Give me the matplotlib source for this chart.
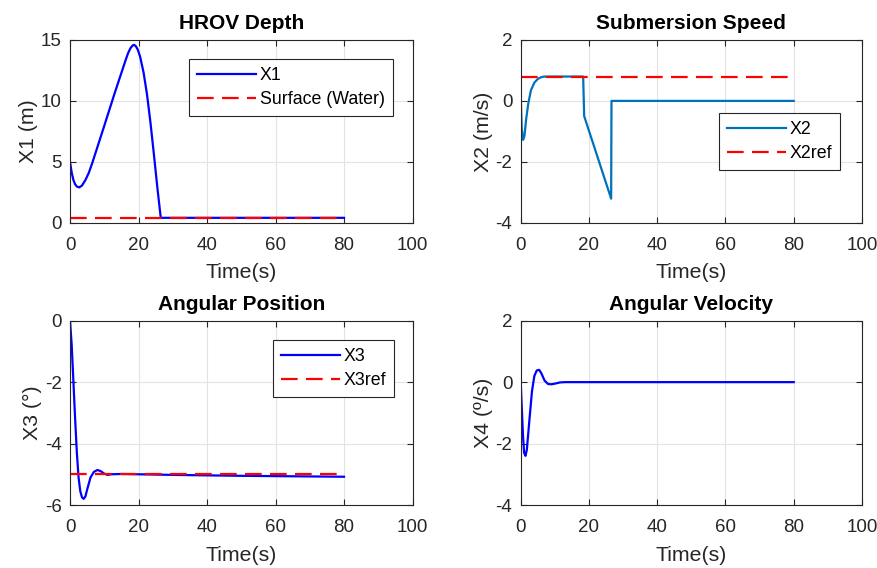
import matplotlib
matplotlib.use("Agg")
import matplotlib.pyplot as plt

plt.rcParams['font.family'] = ['Liberation Sans', 'DejaVu Sans']
plt.rcParams['axes.unicode_minus'] = False

# --- dados ---
t_x1 = [0, 0.5, 1, 1.5, 2, 2.7, 3.5, 4.5, 5.5, 6.5, 10, 13, 16.3, 17, 17.7, 18.3, 18.7, 19.2, 19.8, 20.5, 21.5, 22.5, 23.5, 24.5, 25.5, 26.5, 80]
x1 = [5.0, 4.1, 3.5, 3.15, 2.97, 2.9, 3.05, 3.5, 4.1, 4.9, 7.95, 10.6, 13.4, 13.95, 14.35, 14.55, 14.6, 14.5, 14.2, 13.6, 12.3, 10.5, 8.2, 5.6, 2.9, 0.4, 0.4]
t_surf = [0, 80]
surf = [0.4, 0.4]

t_x2 = [0, 0.3, 0.7, 1.1, 1.6, 2.2, 3, 4, 5, 6, 7, 8, 18.3, 18.6, 26.5, 26.6, 80]
x2 = [0.2, -0.9, -1.28, -1.15, -0.6, -0.1, 0.35, 0.6, 0.72, 0.78, 0.8, 0.8, 0.8, -0.5, -3.21, 0.0, 0.0]
t_x2ref = [0, 80]
x2ref = [0.8, 0.8]

t_x3 = [0, 0.5, 1, 1.5, 2, 2.5, 3, 3.5, 4, 4.5, 5, 6, 7, 8, 9, 10, 11, 12, 15, 30, 50, 80]
x3 = [0, -0.8, -2.0, -3.2, -4.3, -5.1, -5.55, -5.75, -5.8, -5.72, -5.5, -5.1, -4.92, -4.86, -4.9, -4.98, -5.02, -5.0, -4.99, -5.02, -5.05, -5.08]
t_x3ref = [0, 80]
x3ref = [-5.0, -5.0]

t_x4 = [0, 0.3, 0.7, 1.0, 1.4, 1.8, 2.5, 3.3, 4, 4.7, 5.4, 6, 7, 8, 9, 10, 11.5, 13, 80]
x4 = [0, -0.8, -1.8, -2.3, -2.4, -2.2, -1.3, -0.3, 0.2, 0.38, 0.4, 0.3, 0.05, -0.06, -0.07, -0.05, -0.01, 0.0, 0.0]

titulos = ['HROV Depth', 'Submersion Speed', 'Angular Position', 'Angular Velocity']
rotulos_y = ['X1 (m)', 'X2 (m/s)', 'X3 (°)', 'X4 (º/s)']

W, H = 877, 568
fig = plt.figure(figsize=(W / 100, H / 100), dpi=100)

def eixo(x0, y0, x1p, y1p):
    return fig.add_axes([x0 / W, 1 - y1p / H, (x1p - x0) / W, (y1p - y0) / H])

ax1 = eixo(70, 40, 412.5, 222.7)
ax2 = eixo(520.7, 40, 862, 222.7)
ax3 = eixo(70, 320.7, 412.5, 505)
ax4 = eixo(520.7, 320.7, 862, 505)

cinza = '#262626'
azul_matlab = '#0072BD'
tracejado = (0, (7.5, 3.75))

ax1.plot(t_x1, x1, color='blue', lw=1.6, label='X1')
ax1.plot(t_surf, surf, color='red', lw=1.6, ls=tracejado, label='Surface (Water)')
ax1.set_ylim(0, 15)
ax1.set_yticks([0, 5, 10, 15])

ax2.plot(t_x2, x2, color=azul_matlab, lw=1.6, label='X2')
ax2.plot(t_x2ref, x2ref, color='red', lw=1.6, ls=tracejado, label='X2ref')
ax2.set_ylim(-4, 2)
ax2.set_yticks([-4, -2, 0, 2])

ax3.plot(t_x3, x3, color='blue', lw=1.6, label='X3')
ax3.plot(t_x3ref, x3ref, color='red', lw=1.6, ls=tracejado, label='X3ref')
ax3.set_ylim(-6, 0)
ax3.set_yticks([-6, -4, -2, 0])

ax4.plot(t_x4, x4, color='blue', lw=1.6)
ax4.set_ylim(-4, 2)
ax4.set_yticks([-4, -2, 0, 2])

for ax, tit, rot in zip([ax1, ax2, ax3, ax4], titulos, rotulos_y):
    ax.set_xlim(0, 100)
    ax.set_xticks([0, 20, 40, 60, 80, 100])
    ax.set_title(tit, fontsize=15, fontweight='bold', pad=8)
    ax.set_xlabel('Time(s)', fontsize=15.3, color=cinza, labelpad=7)
    ax.set_ylabel(rot, fontsize=15.3, color=cinza, labelpad=2)
    ax.grid(True, color='#e3e3e3', lw=0.8)
    ax.set_axisbelow(True)
    ax.tick_params(direction='in', length=4, labelsize=13.5, colors=cinza, top=True, right=True)
    ax.tick_params(axis='x', pad=10)
    ax.tick_params(axis='y', pad=6)
    for s in ax.spines.values():
        s.set_color(cinza)
        s.set_linewidth(0.8)

def legenda(ax, x0, y0):
    leg = ax.legend(loc='upper left', bbox_to_anchor=(x0 / W, 1 - y0 / H),
                    bbox_transform=fig.transFigure, borderaxespad=0, fontsize=12.8,
                    handlelength=3.3, handletextpad=0.2, labelspacing=0.4,
                    borderpad=0.45, fancybox=False, framealpha=1)
    leg.get_frame().set_edgecolor(cinza)
    leg.get_frame().set_linewidth(0.8)

legenda(ax1, 189.3, 59.3)
legenda(ax2, 719, 113.3)
legenda(ax3, 273.3, 340)

fig.savefig('out.png', dpi=100)
